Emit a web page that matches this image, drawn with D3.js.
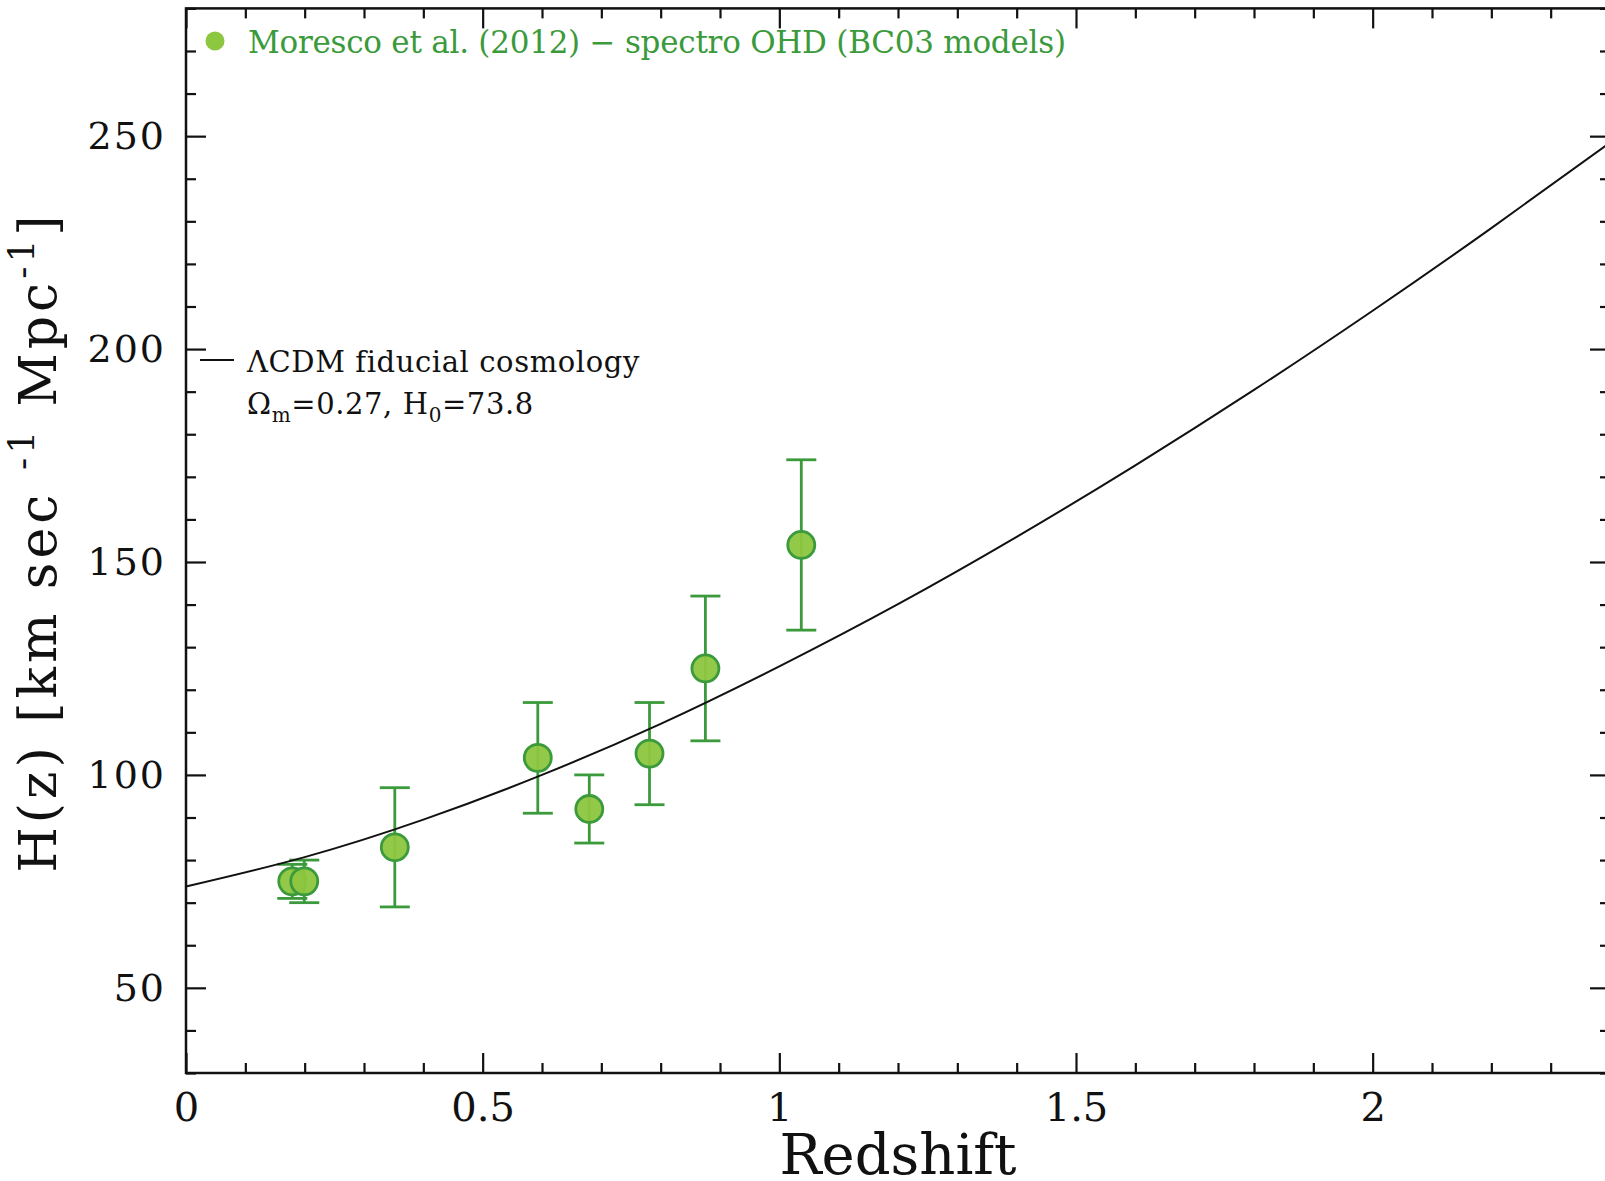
<!DOCTYPE html>
<html lang="en">
<head>
<meta charset="utf-8">
<title>H(z) vs redshift</title>
<script src="https://d3js.org/d3.v7.min.js"></script>
<style>
body { margin: 0; background: #fff; }
svg { display: block; }
.axis path { stroke: none; }
.axis line { stroke: #111; stroke-width: 2.2; }
.axis text { font-family: "DejaVu Serif", serif; fill: #111; }
</style>
</head>
<body>
<div id="chart"></div>
<script>
// Moresco et al. (2012) measurements
var redshift  = [0.1791, 0.1993, 0.3519, 0.5929, 0.6797, 0.7812, 0.8754, 1.037];
var hubble    = [75, 75, 83, 104, 92, 105, 125, 154];
var hubbleErr = [4, 5, 14, 13, 8, 12, 17, 20];

// fiducial LCDM curve
var curveZ = [0, 0.2, 0.4, 0.6, 0.8, 1.0, 1.2, 1.4, 1.6, 1.8, 2.0, 2.2, 2.4];
var curveH = [73.8, 80.7, 89.5, 100.0, 112.0, 125.5, 140.1, 155.9, 172.7, 190.4, 209.0, 228.4, 248.5];

var xTicks = [0, 0.5, 1, 1.5, 2];
var yTicks = [50, 100, 150, 200, 250];

var W = 1605, H = 1181;
var green = "#3b9a3b", fillGreen = "#8dc63f";

var svg = d3.select("#chart").append("svg")
  .attr("width", W)
  .attr("height", H);

var x = d3.scaleLinear().domain([0, 2.4]).range([186, 1610]);
var y = d3.scaleLinear().domain([30, 280]).range([1073, 8.4]);

var minorX = d3.range(0, 2.41, 0.1).filter(function(v) { return Math.abs(v * 2 - Math.round(v * 2)) > 1e-6; });
var minorY = d3.range(30, 281, 10).filter(function(v) { return v % 50 !== 0; });

// frame
svg.append("rect")
  .attr("x", x(0)).attr("y", y(280))
  .attr("width", x(2.4) - x(0)).attr("height", y(30) - y(280))
  .attr("fill", "none").attr("stroke", "#111").attr("stroke-width", 2.5);

// bottom
svg.append("g").attr("class", "axis")
  .attr("transform", "translate(0," + y(30) + ")")
  .call(d3.axisBottom(x).tickValues(xTicks).tickSize(-20).tickPadding(20)
    .tickFormat(function(d) { return d3.format("")(d); }))
  .selectAll("text").attr("font-size", 40);
svg.append("g").attr("class", "axis")
  .attr("transform", "translate(0," + y(30) + ")")
  .call(d3.axisBottom(x).tickValues(minorX).tickSize(-10).tickFormat(""));

// top
svg.append("g").attr("class", "axis")
  .attr("transform", "translate(0," + y(280) + ")")
  .call(d3.axisTop(x).tickValues(xTicks).tickSize(-20).tickFormat(""));
svg.append("g").attr("class", "axis")
  .attr("transform", "translate(0," + y(280) + ")")
  .call(d3.axisTop(x).tickValues(minorX).tickSize(-10).tickFormat(""));

// left
svg.append("g").attr("class", "axis")
  .attr("transform", "translate(" + x(0) + ",0)")
  .call(d3.axisLeft(y).tickValues(yTicks).tickSize(-20).tickPadding(20))
  .selectAll("text").attr("font-size", 38).attr("letter-spacing", 2);
svg.append("g").attr("class", "axis")
  .attr("transform", "translate(" + x(0) + ",0)")
  .call(d3.axisLeft(y).tickValues(minorY).tickSize(-10).tickFormat(""));

// right
svg.append("g").attr("class", "axis")
  .attr("transform", "translate(" + x(2.4) + ",0)")
  .call(d3.axisRight(y).tickValues(yTicks).tickSize(-20).tickFormat(""));
svg.append("g").attr("class", "axis")
  .attr("transform", "translate(" + x(2.4) + ",0)")
  .call(d3.axisRight(y).tickValues(minorY).tickSize(-10).tickFormat(""));

// axis titles
svg.append("text")
  .attr("x", (x(0) + x(2.4)) / 2).attr("y", 1174)
  .attr("text-anchor", "middle")
  .attr("font-family", "DejaVu Serif").attr("font-size", 56)
  .attr("fill", "#111")
  .text("Redshift");

var yt = svg.append("text")
  .attr("transform", "translate(56,542) rotate(-90)")
  .attr("text-anchor", "middle")
  .attr("font-family", "DejaVu Serif").attr("font-size", 52)
  .attr("letter-spacing", 4)
  .attr("fill", "#111");
yt.append("tspan").text("H(z) [km sec ");
yt.append("tspan").attr("font-size", 36).attr("dy", -22).text("-1");
yt.append("tspan").attr("dy", 22).text(" Mpc");
yt.append("tspan").attr("font-size", 36).attr("dy", -22).text("-1");
yt.append("tspan").attr("dy", 22).text("]");

// data
var pts = redshift.map(function(z, i) { return { z: z, h: hubble[i], e: hubbleErr[i] }; });

var eb = svg.append("g").attr("stroke", green).attr("stroke-width", 2.8).attr("fill", "none");
eb.selectAll(".bar").data(pts).enter().append("line")
  .attr("x1", function(d) { return x(d.z); }).attr("x2", function(d) { return x(d.z); })
  .attr("y1", function(d) { return y(d.h + d.e); }).attr("y2", function(d) { return y(d.h - d.e); });
eb.selectAll(".capTop").data(pts).enter().append("line")
  .attr("x1", function(d) { return x(d.z) - 15; }).attr("x2", function(d) { return x(d.z) + 15; })
  .attr("y1", function(d) { return y(d.h + d.e); }).attr("y2", function(d) { return y(d.h + d.e); });
eb.selectAll(".capBot").data(pts).enter().append("line")
  .attr("x1", function(d) { return x(d.z) - 15; }).attr("x2", function(d) { return x(d.z) + 15; })
  .attr("y1", function(d) { return y(d.h - d.e); }).attr("y2", function(d) { return y(d.h - d.e); });

svg.selectAll(".pt").data(pts).enter().append("circle")
  .attr("cx", function(d) { return x(d.z); })
  .attr("cy", function(d) { return y(d.h); })
  .attr("r", 13.5)
  .attr("fill", fillGreen)
  .attr("fill-opacity", 0.95)
  .attr("stroke", green).attr("stroke-width", 2.8);

// model curve
var line = d3.line()
  .x(function(d, i) { return x(curveZ[i]); })
  .y(function(d) { return y(d); })
  .curve(d3.curveNatural);
svg.append("path").datum(curveH)
  .attr("d", line)
  .attr("fill", "none").attr("stroke", "#111").attr("stroke-width", 2);

// legends
svg.append("circle").attr("cx", 215).attr("cy", 41).attr("r", 9.5).attr("fill", fillGreen);
svg.append("text")
  .attr("x", 248).attr("y", 53)
  .attr("font-family", "DejaVu Serif").attr("font-size", 31)
  .attr("fill", green)
  .attr("textLength", 818).attr("lengthAdjust", "spacing")
  .text("Moresco et al. (2012) \u2212 spectro OHD (BC03 models)");

svg.append("line").attr("x1", 200).attr("x2", 234).attr("y1", 360).attr("y2", 360)
  .attr("stroke", "#111").attr("stroke-width", 2);
svg.append("text")
  .attr("x", 247).attr("y", 372)
  .attr("font-family", "DejaVu Serif").attr("font-size", 29)
  .attr("letter-spacing", 0.6)
  .attr("fill", "#111")
  .text("\u039BCDM fiducial cosmology");
var l2 = svg.append("text")
  .attr("x", 247).attr("y", 414)
  .attr("font-family", "DejaVu Serif").attr("font-size", 29)
  .attr("letter-spacing", 0.6)
  .attr("fill", "#111");
l2.append("tspan").text("\u03A9");
l2.append("tspan").attr("font-size", 20).attr("dy", 8).text("m");
l2.append("tspan").attr("dy", -8).text("=0.27, H");
l2.append("tspan").attr("font-size", 20).attr("dy", 8).text("0");
l2.append("tspan").attr("dy", -8).text("=73.8");
</script>
</body>
</html>
